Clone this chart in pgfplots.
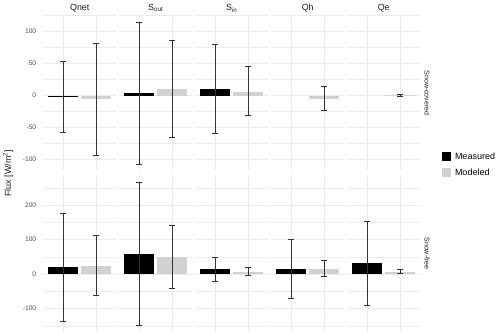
\documentclass[border=0pt]{standalone}
\usepackage{pgfplots}
\pgfplotsset{compat=1.18}
\usepackage{fontspec}
\setmainfont{Liberation Sans}
\definecolor{gridc}{HTML}{EBEBEB}
\definecolor{modc}{HTML}{D1D1D1}
\definecolor{errc}{HTML}{333333}
\definecolor{tickc}{HTML}{4D4D4D}
\definecolor{stripc}{HTML}{1A1A1A}
\pgfplotsset{
  panel/.style={scale only axis, width=72.9pt, xmin=0.4, xmax=2.6,
    xtick={1,2}, xticklabels={}, axis line style={draw=none},
    major tick length=0pt, minor tick length=0pt, tick style={draw=none},
    xmajorgrids, ymajorgrids, yminorgrids,
    major grid style={gridc, line width=0.55pt},
    minor grid style={gridc, line width=0.3pt},
    /pgf/number format/assume math mode=true,
    yticklabel style={font=\fontsize{6.6}{7}\selectfont, text=tickc, anchor=east, inner sep=0pt, xshift=-7pt},
    yticklabels={}},
  firstcol/.style={yticklabels=\relax, yticklabel={\pgfmathprintnumber{\tick}}},
  toprow/.style={height=156pt, ymin=-118, ymax=126,
    ytick={-100,-50,0,50,100}, minor ytick={-125,-75,-25,25,75,125}},
  botrow/.style={height=157pt, ymin=-168, ymax=288,
    ytick={-100,0,100,200}, minor ytick={-150,-50,50,150,250}},
  meas/.style={ybar, bar width=0.9, bar shift=0pt, fill=black, draw=none, forget plot},
  modl/.style={ybar, bar width=0.9, bar shift=0pt, fill=modc, draw=none, forget plot},
}
% error bar: x, low, high
\newcommand{\ebar}[3]{\addplot[errc, line width=0.5pt, mark=-, mark size=3pt, mark options={solid, errc, line width=0.5pt}, forget plot] coordinates {(#1,#2) (#1,#3)};}
\begin{document}
\begin{tikzpicture}
\path[use as bounding box] (0pt,0pt) rectangle (500pt,336pt);
% ---------------- Top row: Snow-covered ----------------
\begin{axis}[panel, toprow, firstcol, at={(43.3pt,165pt)}, anchor=south west]
\addplot[meas] coordinates {(1,-2)};
\addplot[modl] coordinates {(2,-6)};
\ebar{1}{-57.5}{53.5}
\ebar{2}{-93.5}{81.5}
\end{axis}
\begin{axis}[panel, toprow, at={(119.3pt,165pt)}, anchor=south west]
\addplot[meas] coordinates {(1,4)};
\addplot[modl] coordinates {(2,10)};
\ebar{1}{-107}{115}
\ebar{2}{-65}{87}
\end{axis}
\begin{axis}[panel, toprow, at={(195.3pt,165pt)}, anchor=south west]
\addplot[meas] coordinates {(1,10)};
\addplot[modl] coordinates {(2,6)};
\ebar{1}{-59.5}{79.5}
\ebar{2}{-31.5}{45.5}
\end{axis}
\begin{axis}[panel, toprow, at={(271.3pt,165pt)}, anchor=south west]
\addplot[modl] coordinates {(2,-5)};
\ebar{2}{-23.5}{14}
\end{axis}
\begin{axis}[panel, toprow, at={(347.3pt,165pt)}, anchor=south west,
  legend style={at={(axis description cs:1.299,0.04)}, anchor=west, draw=none, fill=none,
    inner sep=0pt, outer sep=0pt, row sep=6pt,
    font=\fontsize{9}{10}\selectfont,
    nodes={inner sep=1pt, anchor=west},
    /tikz/every odd column/.append style={column sep=3pt}},
  legend cell align=left,
  legend image code/.code={\fill[#1] (0pt,-4.5pt) rectangle (9pt,4.5pt);}]
\addplot[modl] coordinates {(2,0.5)};
\ebar{2}{-1.5}{2.5}
\addlegendimage{fill=black, draw=none}
\addlegendentry{Measured}
\addlegendimage{fill=modc, draw=none}
\addlegendentry{Modeled}
\end{axis}
% ---------------- Bottom row: Snow-free ----------------
\begin{axis}[panel, botrow, firstcol, at={(43.3pt,4pt)}, anchor=south west]
\addplot[meas] coordinates {(1,20)};
\addplot[modl] coordinates {(2,25)};
\ebar{1}{-136}{176}
\ebar{2}{-62}{113}
\end{axis}
\begin{axis}[panel, botrow, at={(119.3pt,4pt)}, anchor=south west]
\addplot[meas] coordinates {(1,59)};
\addplot[modl] coordinates {(2,50)};
\ebar{1}{-147}{268}
\ebar{2}{-41}{142}
\end{axis}
\begin{axis}[panel, botrow, at={(195.3pt,4pt)}, anchor=south west]
\addplot[meas] coordinates {(1,14)};
\addplot[modl] coordinates {(2,7)};
\ebar{1}{-20.5}{48.5}
\ebar{2}{-4}{20}
\end{axis}
\begin{axis}[panel, botrow, at={(271.3pt,4pt)}, anchor=south west]
\addplot[meas] coordinates {(1,16)};
\addplot[modl] coordinates {(2,16)};
\ebar{1}{-69}{101}
\ebar{2}{-7}{40}
\end{axis}
\begin{axis}[panel, botrow, at={(347.3pt,4pt)}, anchor=south west]
\addplot[meas] coordinates {(1,31)};
\addplot[modl] coordinates {(2,6)};
\ebar{1}{-91}{154.5}
\ebar{2}{2}{14.5}
\end{axis}
% ---------------- Strip labels ----------------
\begin{scope}[every node/.style={font=\fontsize{8.9}{10}\selectfont, text=stripc}]
\node at (79.75pt,327.7pt) {Qnet};
\node at (155.75pt,327.7pt) {S\textsubscript{out}};
\node at (231.75pt,327.7pt) {S\textsubscript{in}};
\node at (307.75pt,327.7pt) {Qh};
\node at (383.75pt,327.7pt) {Qe};
\end{scope}
\begin{scope}[every node/.style={font=\fontsize{7}{8}\selectfont, text=stripc, rotate=-90}]
\node at (427pt,243pt) {Snow-covered};
\node at (427pt,82.5pt) {Snow-free};
\end{scope}
\node[rotate=90, font=\fontsize{9}{10}\selectfont, text=stripc] at (8pt,162.5pt) {Flux [W/m\textsuperscript{2}]};
\end{tikzpicture}
\end{document}
